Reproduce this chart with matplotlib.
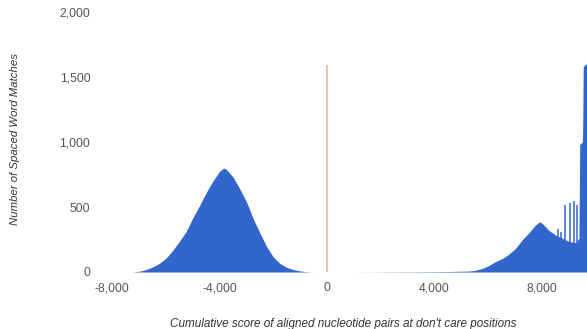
import numpy as np
import matplotlib.pyplot as plt

plt.rcParams['font.family'] = ['Liberation Sans', 'DejaVu Sans']

# left peak: scores vs. number of spaced word matches
left_score = [-7250, -7000, -6750, -6500, -6250, -6000, -5750, -5500, -5250,
              -5000, -4750, -4500, -4250, -4000, -3850, -3750, -3500, -3250,
              -3000, -2750, -2500, -2250, -2000, -1750, -1500, -1250, -1000,
              -750, -500]
left_count = [0, 5, 18, 38, 65, 105, 165, 235, 310,
              415, 510, 610, 700, 775, 800, 790, 730, 640,
              540, 410, 300, 195, 115, 65, 35, 18, 8,
              2, 0]

# right tail and peak
right_score = [1000, 2000, 3000, 4000, 4500, 5000, 5250, 5500, 5750, 6000,
               6250, 6500, 6750, 7000, 7250, 7500, 7750, 7900, 8000, 8250,
               8500, 8750, 9000, 9250, 9370, 9400, 9500, 9515, 9530, 9620,
               9670]
right_count = [0, 1, 2, 3, 4, 6, 7, 12, 26, 48,
               78, 102, 135, 180, 245, 300, 360, 385, 375, 320,
               285, 260, 235, 225, 260, 980, 1000, 1200, 1580, 1600,
               1590]

# narrow spikes on top of the right shoulder
spike_score = [8600, 8720, 8850, 9040, 9190, 9300]
spike_count = [330, 310, 515, 530, 550, 515]

blue = '#3366cc'

fig = plt.figure(figsize=(5.87, 3.29), dpi=100)
ax = fig.add_axes([100 / 587, 57 / 329, 487 / 587, 260 / 329])

ax.fill_between(left_score, left_count, color=blue, lw=0)
ax.fill_between(right_score, right_count, color=blue, lw=0)
ax.vlines(spike_score, 0, spike_count, color=blue, lw=1.1)

# marker at score 0
ax.vlines([0], 0, 1590, color='#e8b8a4', lw=1.2)

ax.set_xlim(-8450, 9670)
ax.set_ylim(0, 2000)
ax.set_xticks([-8000, -4000, 0, 4000, 8000])
ax.set_xticklabels(['-8,000', '-4,000', '0', '4,000', '8,000'])
ax.set_yticks([0, 500, 1000, 1500, 2000])
ax.set_yticklabels(['0', '500', '1,000', '1,500', '2,000'])
ax.tick_params(length=0, labelsize=8.8, colors='#555555')
ax.tick_params(axis='y', pad=7)
ax.tick_params(axis='x', pad=7.5)
for s in ax.spines.values():
    s.set_visible(False)

ax.set_xlabel("Cumulative score of aligned nucleotide pairs at don't care positions",
              fontsize=8.5, style='italic', color='#333333', labelpad=17)
fig.text(15 / 587, 1 - 139 / 329, 'Number of Spaced Word Matches', rotation=90,
         fontsize=8.2, style='italic', color='#333333', ha='center', va='center')

fig.savefig('out.png', dpi=100)
